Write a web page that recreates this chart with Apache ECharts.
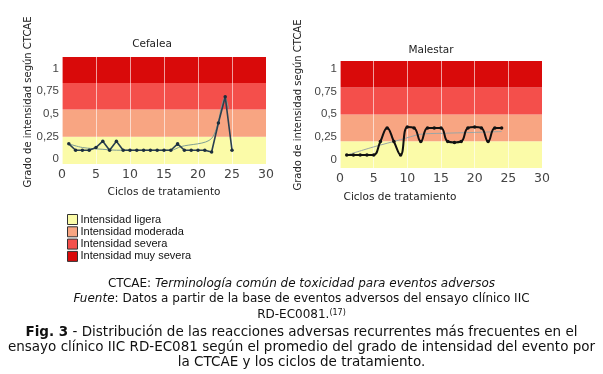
<!DOCTYPE html>
<html><head><meta charset="utf-8">
<script src="https://cdn.jsdelivr.net/npm/echarts@6/dist/echarts.min.js"></script>
<style>html,body{margin:0;padding:0;background:#fff}#c{width:603px;height:374px}</style>
</head><body><div id="c"></div>
<script>
const bandNames = ['Intensidad ligera', 'Intensidad moderada', 'Intensidad severa', 'Intensidad muy severa'];
const bandColors = ['#FBFBA8', '#F8A582', '#F44F4B', '#D90A0A'];
const yTickValues = [0, 0.25, 0.5, 0.75, 1];

const cefaleaCycles = [1,2,3,4,5,6,7,8,9,10,11,12,13,14,15,16,17,18,19,20,21,22,23,24,25];
const cefaleaValues = [0.17,0.10,0.10,0.10,0.13,0.20,0.10,0.20,0.10,0.10,0.10,0.10,0.10,0.10,0.10,0.10,0.17,0.10,0.10,0.10,0.10,0.08,0.40,0.69,0.10];
const cefaleaTrendCycles = [1,3,6,8,16,17.5,22,24,24.5];
const cefaleaTrendValues = [0.17,0.13,0.11,0.10,0.10,0.14,0.23,0.68,0.56];
const cefaleaBandEdges = [-0.052, 0.249, 0.55, 0.84, 1.128];

const malestarCycles = [1,2,3,4,5,6,7,8,9,10,11,12,13,14,15,16,17,18,19,20,21,22,23,24];
const malestarValues = [0.05,0.05,0.05,0.05,0.05,0.20,0.35,0.20,0.05,0.36,0.35,0.20,0.35,0.35,0.35,0.20,0.19,0.20,0.35,0.36,0.35,0.20,0.35,0.35];
const malestarTrendCycles = [1,5,9,12,15,20,24];
const malestarTrendValues = [0.05,0.14,0.22,0.28,0.29,0.30,0.31];
const malestarBandEdges = [-0.093, 0.203, 0.498, 0.797, 1.089];

const FONT = 'DejaVu Sans';
const chart = echarts.init(document.getElementById('c'), null, {renderer: 'canvas'});

function zip(xs, ys) { return xs.map((x, i) => [x, ys[i]]); }
function xAxisFor(gi) {
  return {
    gridIndex: gi, type: 'value', min: 0, max: 30, interval: 5, z: 3,
    axisLine: {show: false}, axisTick: {show: false},
    splitLine: {show: true, lineStyle: {color: 'rgba(255,255,255,0.6)', width: 1}},
    axisLabel: {margin: 4, fontSize: 12.5, fontFamily: FONT, color: '#444'}
  };
}
function yAxisFor(gi, edges) {
  return {
    gridIndex: gi, type: 'value', min: edges[0], max: edges[edges.length - 1],
    axisLine: {show: false}, axisTick: {show: false}, splitLine: {show: false},
    axisLabel: {
      customValues: yTickValues, margin: 3, fontSize: 11.5, fontFamily: 'Liberation Sans', color: '#444',
      formatter: v => String(Math.round(v * 100) / 100).replace('.', ',')
    }
  };
}
function bandSeries(gi, edges) {
  return bandNames.map((name, k) => ({
    type: 'scatter', name: name, xAxisIndex: gi, yAxisIndex: gi, data: [], z: 1,
    itemStyle: {color: bandColors[k], opacity: 1},
    markArea: {silent: true, itemStyle: {color: bandColors[k], opacity: 1},
      data: [[{yAxis: edges[k]}, {yAxis: edges[k + 1]}]]}
  }));
}

const series = [].concat(
  bandSeries(0, cefaleaBandEdges),
  bandSeries(1, malestarBandEdges),
  [
    {type: 'line', name: 'cefaleaTrend', xAxisIndex: 0, yAxisIndex: 0, z: 4, data: zip(cefaleaTrendCycles, cefaleaTrendValues),
      showSymbol: false, smooth: 0.3, lineStyle: {color: '#7f9e94', width: 1}},
    {type: 'line', name: 'cefalea', xAxisIndex: 0, yAxisIndex: 0, z: 5, data: zip(cefaleaCycles, cefaleaValues),
      symbol: 'circle', symbolSize: 3.5, itemStyle: {color: '#1c2e3c'}, lineStyle: {color: '#2a4050', width: 1.6}},
    {type: 'line', name: 'malestarTrend', xAxisIndex: 1, yAxisIndex: 1, z: 4, data: zip(malestarTrendCycles, malestarTrendValues),
      showSymbol: false, smooth: 0.3, lineStyle: {color: '#9aa6a6', width: 1}},
    {type: 'line', name: 'malestar', xAxisIndex: 1, yAxisIndex: 1, z: 5, data: zip(malestarCycles, malestarValues),
      symbol: 'circle', symbolSize: 3.5, smooth: 0.45, itemStyle: {color: '#111'}, lineStyle: {color: '#111', width: 2}}
  ]
);

function txt(text, x, y, extra) {
  return Object.assign({type: 'text', x: x, y: y, silent: true,
    style: Object.assign({text: text, fontFamily: FONT, fontSize: 10.5, fill: '#222', align: 'center', verticalAlign: 'middle'}, (extra && extra.style) || {})},
    extra && extra.rotation !== undefined ? {rotation: extra.rotation} : {});
}
function richFor(size) {
  return {
    i: {fontFamily: FONT, fontSize: size, fontStyle: 'italic', fill: '#111'},
    b: {fontFamily: FONT, fontSize: size, fontWeight: 'bold', fill: '#111'},
    sup: {fontFamily: FONT, fontSize: 8, fill: '#111', verticalAlign: 'top'}
  };
}
const cap1 = {fontFamily: FONT, fontSize: 12, fill: '#111', rich: richFor(12)};
const cap2 = {fontFamily: FONT, fontSize: 13.5, fill: '#111', rich: richFor(13.5)};

chart.setOption({
  animation: false,
  grid: [
    {left: 62, top: 57, width: 204, height: 107},
    {left: 340, top: 61, width: 202, height: 107}
  ],
  xAxis: [xAxisFor(0), xAxisFor(1)],
  yAxis: [yAxisFor(0, cefaleaBandEdges), yAxisFor(1, malestarBandEdges)],
  legend: {
    orient: 'vertical', left: 62, top: 209, padding: 5, itemWidth: 10, itemHeight: 10, itemGap: 1.3,
    icon: 'rect', selectedMode: false, data: bandNames,
    itemStyle: {borderColor: '#333', borderWidth: 1},
    textStyle: {fontSize: 11, fontFamily: 'Liberation Sans', color: '#111', padding: [0, 0, 0, -2]}
  },
  graphic: [
    txt('Cefalea', 152, 44),
    txt('Malestar', 431, 50),
    txt('Grado de intensidad según CTCAE', 28, 102, {rotation: Math.PI / 2, style: {fontSize: 10}}),
    txt('Grado de intensidad según CTCAE', 298, 105, {rotation: Math.PI / 2, style: {fontSize: 10}}),
    txt('Ciclos de tratamiento', 164, 192),
    txt('Ciclos de tratamiento', 400, 197),
    txt('CTCAE: {i|Terminología común de toxicidad para eventos adversos}', 301.5, 284, {style: cap1}),
    txt('{i|Fuente}: Datos a partir de la base de eventos adversos del ensayo clínico IIC', 301.5, 299, {style: cap1}),
    txt('RD-EC0081.{sup|(17)}', 301.5, 315, {style: cap1}),
    txt('{b|Fig. 3} - Distribución de las reacciones adversas recurrentes más frecuentes en el', 301.5, 332, {style: cap2}),
    txt('ensayo clínico IIC RD-EC081 según el promedio del grado de intensidad del evento por', 301.5, 347, {style: cap2}),
    txt('la CTCAE y los ciclos de tratamiento.', 301.5, 362, {style: cap2})
  ],
  series: series
});
</script></body></html>
